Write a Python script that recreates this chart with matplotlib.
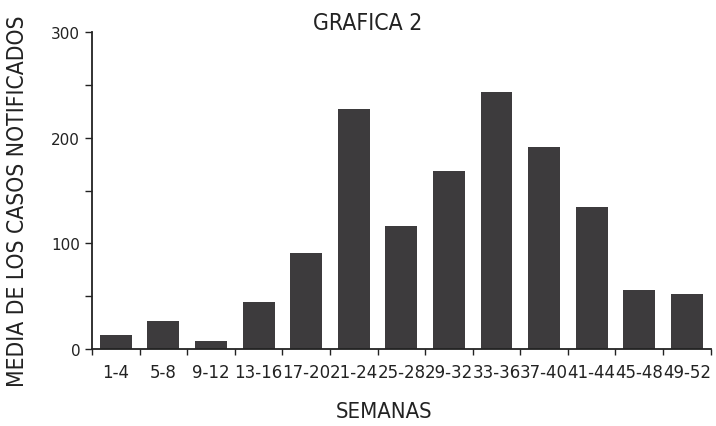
import matplotlib
matplotlib.use("Agg")
import matplotlib.pyplot as plt
import numpy as np

plt.rcParams["font.family"] = ["DejaVu Sans"]

categories = ["1-4", "5-8", "9-12", "13-16", "17-20", "21-24", "25-28",
              "29-32", "33-36", "37-40", "41-44", "45-48", "49-52"]
values = [13, 27, 8, 45, 91, 227, 116, 168, 243, 191, 134, 56, 52]
yticks = [0, 100, 200, 300]

fig = plt.figure(figsize=(7.16, 4.27), dpi=100)
ax = fig.add_axes([0.1285, 0.180, 0.864, 0.743])

x = np.arange(len(categories))
ax.bar(x, values, width=0.67, color="#3d3b3d", edgecolor="none")

ax.set_xlim(-0.5, len(categories) - 0.5)
ax.set_ylim(0, 300)

for s in ["top", "right"]:
    ax.spines[s].set_visible(False)
for s in ["left", "bottom"]:
    ax.spines[s].set_linewidth(1.3)
    ax.spines[s].set_color("#222222")

ax.set_yticks(yticks)
ax.set_yticklabels([str(v) for v in yticks], fontsize=11, color="#222222")
ax.set_yticks([50, 150, 250], minor=True)
ax.tick_params(axis="y", which="both", direction="out", length=5, width=1, color="#222222")

ax.set_xticks(x)
ax.set_xticklabels(categories, fontsize=12, color="#222222")
ax.tick_params(axis="x", which="major", length=0, pad=10)
ax.set_xticks(np.arange(len(categories) + 1) - 0.5, minor=True)
ax.tick_params(axis="x", which="minor", direction="out", length=4, width=1, color="#222222")

fig.text(0.514, 0.945, "GRAFICA 2", ha="center", va="center", fontsize=16.5,
         fontstretch="condensed", color="#222222")
fig.text(0.025, 0.528, "MEDIA DE LOS CASOS NOTIFICADOS", rotation=90, ha="center", va="center",
         fontsize=16.4, fontstretch="condensed", color="#222222")
fig.text(0.536, 0.036, "SEMANAS", ha="center", va="center", fontsize=15.8,
         fontstretch="condensed", color="#222222")

fig.savefig("out.png", dpi=100, facecolor="white")
